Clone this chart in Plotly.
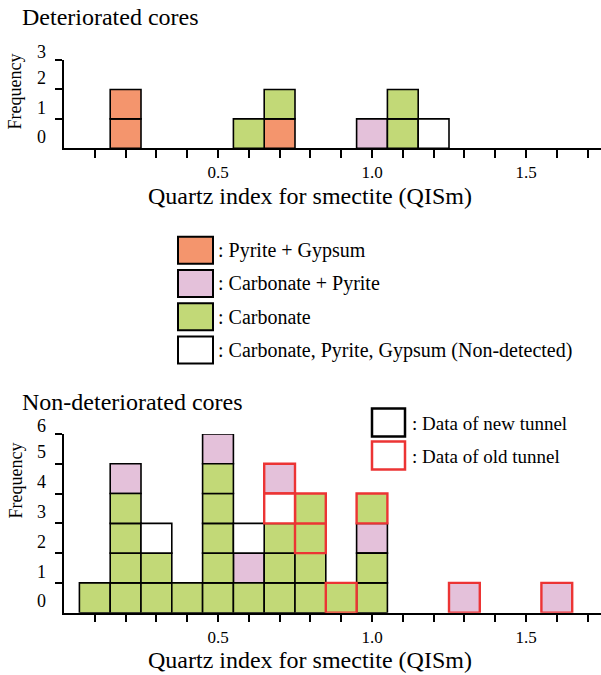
import plotly.graph_objects as go

# ---------------- data ----------------
# Deteriorated cores: one entry per sample, stacked bottom-to-top in list order
det_qism = [0.2, 0.2, 0.6, 0.7, 0.7, 1.0, 1.1, 1.1, 1.2]
det_mineral = ["PG", "PG", "C", "PG", "C", "CP", "C", "C", "N"]

# Non-deteriorated cores
nondet_qism = [0.1,
               0.2, 0.2, 0.2, 0.2, 0.2,
               0.3, 0.3, 0.3,
               0.4,
               0.5, 0.5, 0.5, 0.5, 0.5, 0.5,
               0.6, 0.6, 0.6,
               0.7, 0.7, 0.7, 0.7, 0.7,
               0.8, 0.8, 0.8, 0.8,
               0.9,
               1.0, 1.0, 1.0, 1.0,
               1.3,
               1.6]
nondet_mineral = ["C",
                  "C", "C", "C", "C", "CP",
                  "C", "C", "N",
                  "C",
                  "C", "C", "C", "C", "C", "CP",
                  "C", "CP", "N",
                  "C", "C", "C", "N", "CP",
                  "C", "C", "C", "C",
                  "C",
                  "C", "C", "CP", "C",
                  "CP",
                  "CP"]
nondet_tunnel = ["new",
                 "new", "new", "new", "new", "new",
                 "new", "new", "new",
                 "new",
                 "new", "new", "new", "new", "new", "new",
                 "new", "new", "new",
                 "new", "new", "new", "old", "old",
                 "new", "new", "old", "old",
                 "old",
                 "new", "new", "new", "old",
                 "old",
                 "old"]

mineral_codes = ["PG", "CP", "C", "N"]
mineral_labels = [": Pyrite + Gypsum", ": Carbonate + Pyrite", ": Carbonate",
                  ": Carbonate, Pyrite, Gypsum (Non-detected)"]
mineral_colors = ["#F4956D", "#E4C1DA", "#C2D977", "#FFFFFF"]
tunnel_codes = ["new", "old"]
tunnel_labels = [": Data of new tunnel", ": Data of old tunnel"]
tunnel_colors = ["#000000", "#EC3434"]

x_tickvals = [round(0.1 * i, 1) for i in range(1, 18)]
x_ticktext = ["0.5" if v == 0.5 else "1.0" if v == 1.0 else "1.5" if v == 1.5 else "" for v in x_tickvals]
det_ylabels = ["0", "1", "2", "3"]
nondet_ylabels = ["0", "1", "2", "3", "4", "5", "6"]
xlabel = "Quartz index for smectite (QISm)"

# ---------------- helpers ----------------
W, H = 601, 675
FONT = "Liberation Serif"


def px(x):
    return x / W


def py(y):
    return 1 - y / H


def stack_bases(xs):
    counts = {}
    bases = []
    for x in xs:
        k = round(x, 2)
        bases.append(counts.get(k, 0))
        counts[k] = counts.get(k, 0) + 1
    return bases


fig = go.Figure()

line_w = {"new": 1.6, "old": 2.4}


def add_cells(xs, minerals, tunnels, xaxis, yaxis):
    bases = stack_bases(xs)
    for t, tcol in zip(tunnel_codes, tunnel_colors):
        for m, mcol in zip(mineral_codes, mineral_colors):
            sel = [i for i in range(len(xs)) if minerals[i] == m and tunnels[i] == t]
            if not sel:
                continue
            fig.add_trace(go.Bar(
                x=[xs[i] for i in sel],
                y=[1] * len(sel),
                base=[bases[i] for i in sel],
                width=0.1,
                marker=dict(color=mcol, line=dict(color=tcol, width=line_w[t])),
                xaxis=xaxis, yaxis=yaxis, showlegend=False, hoverinfo="x+y",
            ))


add_cells(det_qism, det_mineral, ["new"] * len(det_qism), "x", "y")
add_cells(nondet_qism, nondet_mineral, nondet_tunnel, "x2", "y2")

xrange = [0, 537 / 308]
y1_dom, y1_rng = [py(148.3), py(60)], [0, 3]
y2_dom, y2_rng = [py(612.7), py(434)], [0, 6]


def y_to_paper(v, dom, rng):
    return dom[0] + (v - rng[0]) / (rng[1] - rng[0]) * (dom[1] - dom[0])


common_x = dict(range=xrange, domain=[px(64), 1], showline=True, linecolor="black",
                linewidth=1.5, ticks="outside", ticklen=8, tickwidth=1.5, tickcolor="black",
                tickvals=x_tickvals, ticktext=x_ticktext, showgrid=False, zeroline=False,
                tickfont=dict(family=FONT, size=17, color="black"), fixedrange=True)
common_y = dict(showline=True, linecolor="black", linewidth=1.5, ticks="outside",
                ticklen=7, tickwidth=1.5, tickcolor="black", showticklabels=False,
                showgrid=False, zeroline=False, fixedrange=True)

fig.update_layout(
    width=W, height=H,
    margin=dict(l=0, r=0, t=0, b=0),
    paper_bgcolor="white", plot_bgcolor="white",
    barmode="overlay",
    font=dict(family=FONT, color="black"),
    xaxis=dict(anchor="y", **common_x),
    yaxis=dict(anchor="x", domain=y1_dom, range=y1_rng, tickvals=[1, 2, 3], **common_y),
    xaxis2=dict(anchor="y2", **common_x),
    yaxis2=dict(anchor="x2", domain=y2_dom, range=y2_rng,
                tickvals=[1, 2, 3, 4, 5, 6], **common_y),
)

ann = []
# titles
ann.append(dict(text="Deteriorated cores", x=px(20), y=py(17), xref="paper", yref="paper",
                xanchor="left", yanchor="middle", showarrow=False,
                font=dict(family=FONT, size=24, color="black")))
ann.append(dict(text="Non-deteriorated cores", x=px(20), y=py(402), xref="paper", yref="paper",
                xanchor="left", yanchor="middle", showarrow=False,
                font=dict(family=FONT, size=24, color="black")))
# axis titles
for yc in (195.5, 660):
    ann.append(dict(text=xlabel, x=px(310), y=py(yc), xref="paper", yref="paper",
                    xanchor="center", yanchor="middle", showarrow=False,
                    font=dict(family=FONT, size=24, color="black")))
for yc in (91.5, 480.5):
    ann.append(dict(text="Frequency", x=px(15), y=py(yc), xref="paper", yref="paper",
                    xanchor="center", yanchor="middle", showarrow=False, textangle=-90,
                    font=dict(family=FONT, size=18, color="black")))
# y tick labels (drawn between tick marks as in the original; topmost a little lower)
for labels, dom, rng in ((det_ylabels, y1_dom, y1_rng), (nondet_ylabels, y2_dom, y2_rng)):
    for i, lab in enumerate(labels):
        off = 0.38 if i < len(labels) - 1 else 0.28
        ann.append(dict(text=lab, x=px(48), y=y_to_paper(i + off, dom, rng),
                        xref="paper", yref="paper",
                        xanchor="right", yanchor="middle", showarrow=False,
                        font=dict(family=FONT, size=18, color="black")))

shapes = []
# mineral legend
for i, (lab, col) in enumerate(zip(mineral_labels, mineral_colors)):
    top = 236.7 + i * 33.3
    shapes.append(dict(type="rect", xref="paper", yref="paper",
                       x0=px(178), x1=px(213), y0=py(top + 27), y1=py(top),
                       fillcolor=col, line=dict(color="black", width=2)))
    ann.append(dict(text=lab, x=px(216), y=py(top + 13.5), xref="paper", yref="paper",
                    xanchor="left", yanchor="middle", showarrow=False,
                    font=dict(family=FONT, size=20, color="black")))
# tunnel legend
for i, (lab, col) in enumerate(zip(tunnel_labels, tunnel_colors)):
    top = 408.5 + i * 33
    shapes.append(dict(type="rect", xref="paper", yref="paper",
                       x0=px(372), x1=px(405), y0=py(top + 28), y1=py(top),
                       fillcolor="white", line=dict(color=col, width=2.5)))
    ann.append(dict(text=lab, x=px(410), y=py(top + 15), xref="paper", yref="paper",
                    xanchor="left", yanchor="middle", showarrow=False,
                    font=dict(family=FONT, size=19, color="black")))

fig.update_layout(annotations=ann, shapes=shapes)

fig.write_html("out.html", config={"displayModeBar": False},
               post_script="document.body.style.margin='0';document.body.style.overflow='hidden';")
